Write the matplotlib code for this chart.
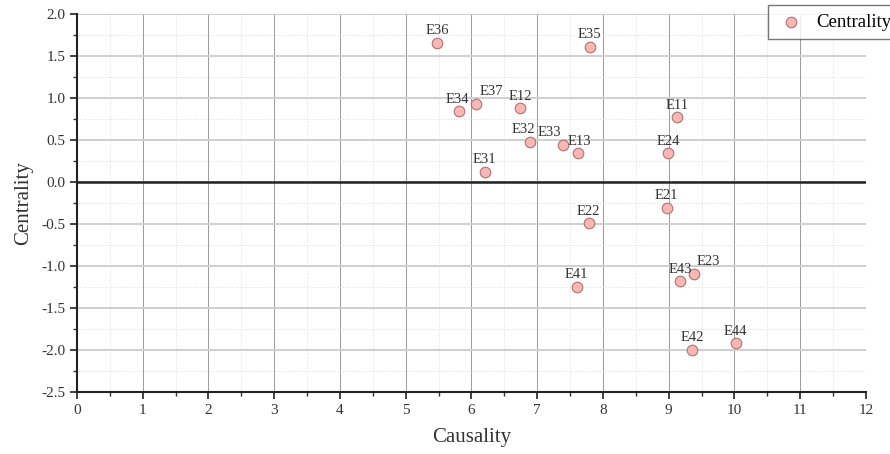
import matplotlib.pyplot as plt
from matplotlib.ticker import MultipleLocator, FormatStrFormatter

# --- data ---
names = ['E36', 'E35', 'E37', 'E34', 'E12', 'E11', 'E32', 'E33', 'E13',
         'E24', 'E31', 'E21', 'E22', 'E43', 'E23', 'E41', 'E42', 'E44']
causality = [5.48, 7.80, 6.07, 5.81, 6.74, 9.13, 6.89, 7.39, 7.62,
             8.99, 6.20, 8.97, 7.78, 9.17, 9.39, 7.60, 9.36, 10.02]
centrality = [1.66, 1.61, 0.93, 0.84, 0.88, 0.77, 0.48, 0.44, 0.34,
              0.34, 0.12, -0.31, -0.49, -1.18, -1.09, -1.25, -2.00, -1.92]

# label offsets in points (layout only)
offsets = {'E37': (11, 4), 'E33': (-10, 4), 'E32': (-5, 4), 'E23': (10, 4),
           'E13': (1, 4), 'E34': (-1, 4)}

plt.rcParams['font.family'] = ['Liberation Serif', 'DejaVu Serif']
fig = plt.figure(figsize=(8.9, 4.54), dpi=100)
ax = fig.add_axes([0.0865, 0.1366, 0.8865, 0.8325])

ax.scatter(causality, centrality, s=58, facecolor='#f7b7b5', edgecolor='#b07070',
           linewidth=0.8, zorder=5, label='Centrality')

for n, x, y in zip(names, causality, centrality):
    dx, dy = offsets.get(n, (0, 4))
    ax.annotate(n, (x, y), xytext=(dx, dy), textcoords='offset points',
                ha='center', va='bottom', fontsize=10.5, color='#333333', zorder=6)

ax.axhline(0, color='#222222', lw=1.8, zorder=3)

ax.set_xlim(0, 12)
ax.set_ylim(-2.5, 2.0)
ax.xaxis.set_major_locator(MultipleLocator(1))
ax.xaxis.set_minor_locator(MultipleLocator(0.5))
ax.yaxis.set_major_locator(MultipleLocator(0.5))
ax.yaxis.set_minor_locator(MultipleLocator(0.25))
ax.yaxis.set_major_formatter(FormatStrFormatter('%.1f'))

ax.grid(which='major', axis='y', color='#cfcfcf', lw=1.4)
ax.grid(which='major', axis='x', color='#9a9a9a', lw=0.7)
ax.grid(which='minor', color='#dddddd', lw=0.7, linestyle=':')
ax.set_axisbelow(True)

for s in ['top', 'right']:
    ax.spines[s].set_visible(False)
for s in ['left', 'bottom']:
    ax.spines[s].set_linewidth(1.5)
    ax.spines[s].set_color('#222222')
ax.tick_params(which='major', direction='out', length=5, width=1.3, labelsize=11, colors='#333333')
ax.tick_params(which='minor', direction='out', length=3, width=1.0, colors='#333333')

ax.set_xlabel('Causality', fontsize=15, color='#333333', labelpad=8)
ax.set_ylabel('Centrality', fontsize=15, color='#333333', labelpad=6)

fig.legend(loc='upper left', bbox_to_anchor=(768 / 890, 1 - 5 / 454), fontsize=13.5,
           frameon=True, fancybox=False, edgecolor='#555555', handletextpad=0.6,
           borderpad=0.45, borderaxespad=0.0, markerscale=1.0, handlelength=1.5)

fig.savefig('out.png', dpi=100)
